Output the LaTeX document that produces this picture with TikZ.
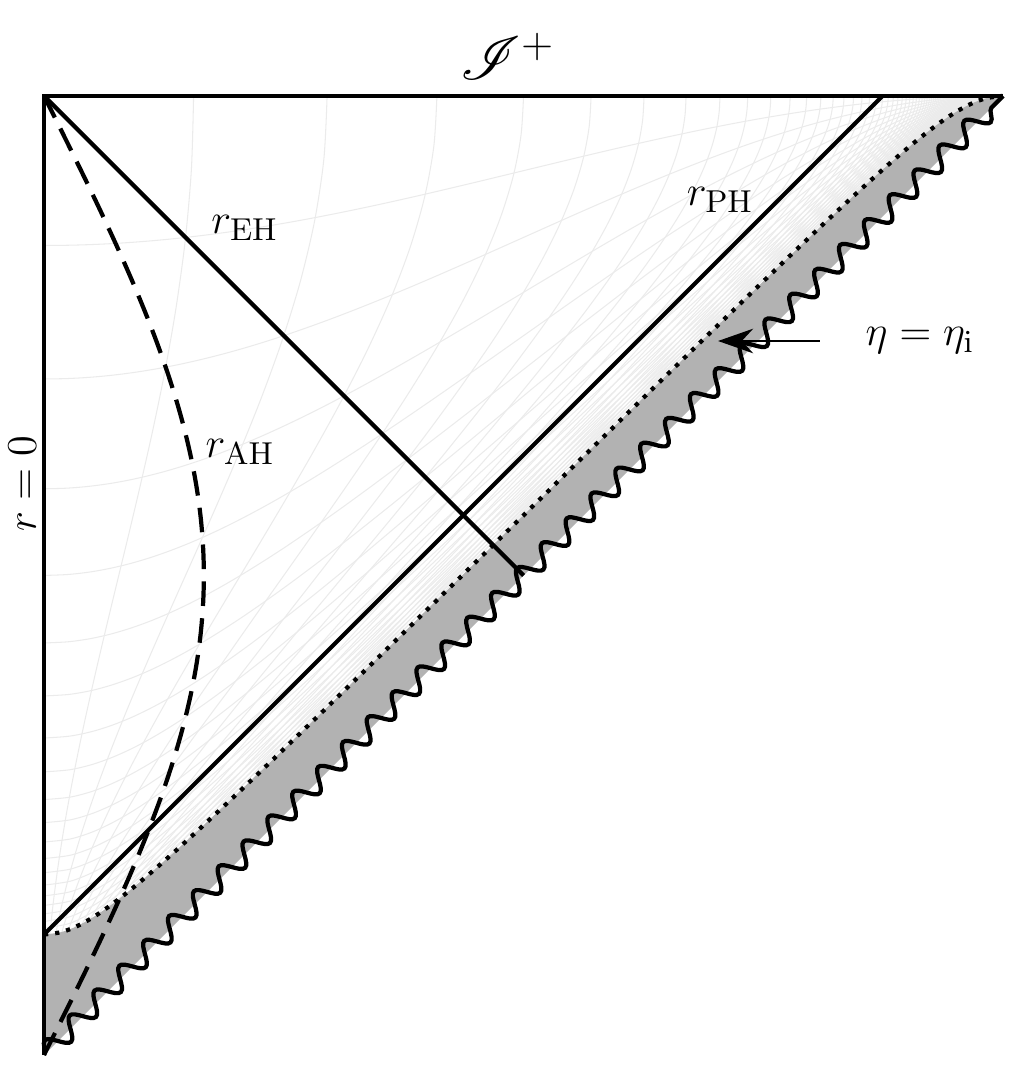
\documentclass[tikz,border=0pt]{standalone}
\usepackage{mathrsfs}
\usetikzlibrary{decorations.pathmorphing,arrows.meta}

\begin{document}
\begin{tikzpicture}[x=0.05328cm,y=0.05328cm,
    coordline/.style={black!8,line width=0.3pt},
    edge/.style={line width=1.2pt},
    every node/.style={font=\fontsize{12.5}{15}\selectfont}]
    \useasboundingbox (-8.26,-3.94) rectangle (183.37,198);

    % Corners
    \coordinate (bot) at (0,0);
    \coordinate (top) at (0,180);
    \coordinate (far) at (180,180);
    \coordinate (ini) at (0,22.62);
    \coordinate (phend) at (157.38,180);
    \coordinate (ehend) at (90,90);

    % Coordinate lines, eta = const
    \foreach \e in {-0.25,-0.5,...,-4.8}{
        \pgfmathsetmacro{\pstart}{atan(\e)}
        \draw[coordline] plot[smooth,domain=\pstart:89.9,samples=60]
            ({\x-atan(2*\e-tan(\x))},{180+\x+atan(2*\e-tan(\x))});
    }
    % Coordinate lines, r = const
    \foreach \r in {0.25,0.5,...,20}
        \draw[coordline] plot[smooth,domain=-5:0,samples=40]
            ({atan(\x+\r)-atan(\x-\r)},{180+atan(\x+\r)+atan(\x-\r)});

    % Region before eta_i
    \fill[black!30] plot[smooth,domain=-78.69:89.95,samples=100]
        ({\x-atan(-10-tan(\x))},{180+\x+atan(-10-tan(\x))}) -- (far) -- (bot) -- cycle;
    \draw[edge,dotted] plot[smooth,domain=-78.69:89.95,samples=100]
        ({\x-atan(-10-tan(\x))},{180+\x+atan(-10-tan(\x))});

    % Boundaries and horizons
    \draw[edge] (bot) -- (top) -- (far);
    \draw[edge] (ini) -- (phend);
    \draw[edge] (top) -- (ehend);
    \draw[edge,dash pattern=on 7pt off 3.5pt] plot[smooth,domain=-90:90,samples=60]
        ({asin(0.5*cos(\x))},{\x+90});
    \draw[edge,decorate,decoration={snake,amplitude=2.8pt,segment length=10pt}] (bot) -- (far);

    % Labels
    \node[font=\LARGE] (scri) at (87,187.5) {$\mathscr{I}^+$};
    \node[rotate=90] (rzero) at (-4.1,107.2) {$r=0$};
    \node (reh) at (37.7,155.3) {$r_{\mathrm{EH}}$};
    \node (rah) at (36.8,113.2) {$r_{\mathrm{AH}}$};
    \node (rph) at (126.9,160.5) {$r_{\mathrm{PH}}$};
    \node (etai) at (164.4,134) {$\eta=\eta_{\mathrm{i}}$};
    \coordinate (arrtail) at (145.6,134);
    \coordinate (arrtip) at (126.5,134);
    \draw[-{Stealth[length=10pt,width=7pt]},line width=0.5pt] (arrtail) -- (arrtip);
\end{tikzpicture}
\end{document}
